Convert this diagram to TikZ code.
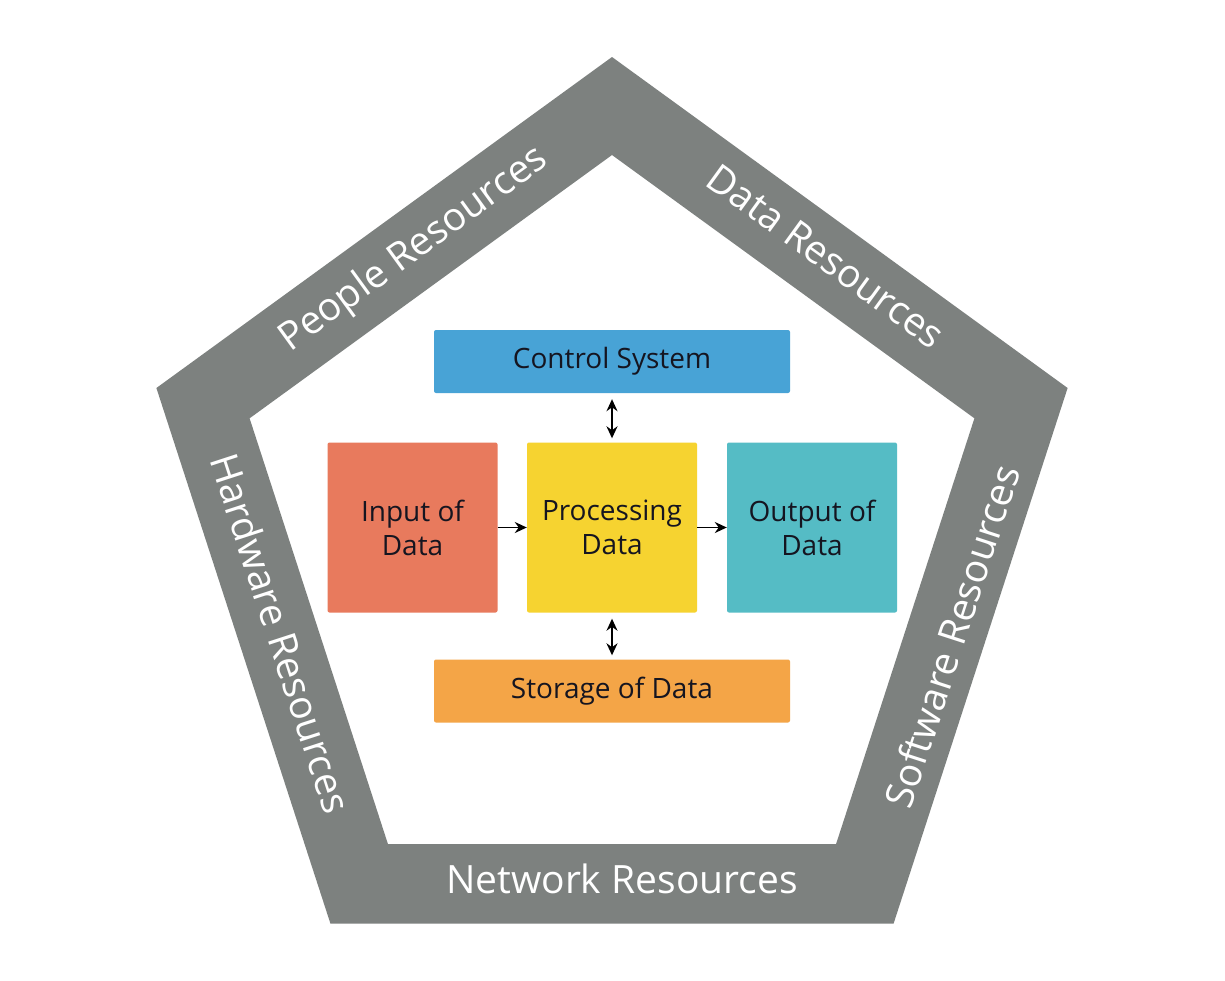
\documentclass[tikz,border=0pt]{standalone}
\usepackage{fontspec}
\setmainfont{Open Sans}
\usetikzlibrary{arrows.meta}
\definecolor{bandgray}{HTML}{7D817F}
\definecolor{cblue}{HTML}{48A3D6}
\definecolor{cred}{HTML}{E87A5D}
\definecolor{cyellow}{HTML}{F6D330}
\definecolor{cteal}{HTML}{55BCC5}
\definecolor{corange}{HTML}{F4A547}
\definecolor{ink}{HTML}{151520}
\begin{document}
\begin{tikzpicture}[x=1pt,y=-1pt,
  box/.style={rounded corners=2pt, inner sep=0pt, text=ink, align=center,
    font=\fontsize{28}{34}\selectfont},
  wide/.style={box, minimum width=356pt, minimum height=63pt},
  sq/.style={box, minimum width=170pt, minimum height=170pt},
  band/.style={text=white, font=\fontsize{39}{44}\selectfont, inner sep=0pt},
  tip/.style={Stealth[length=12pt,width=11pt]},
  conn/.style={-{Stealth[length=12pt,width=11pt]}, line width=1.8pt, black},
  dconn/.style={{Stealth[length=12pt,width=11pt]}-{Stealth[length=12pt,width=11pt]}, line width=1.8pt, black, shorten <=6pt, shorten >=4pt}]
\useasboundingbox (0,0) rectangle (1225,980);
\fill[white] (0,0) rectangle (1225,980);
% pentagon band
\fill[bandgray, even odd rule]
  (612,57) -- (1067.6,388) -- (893.6,923.5) -- (330.4,923.5) -- (156.4,388) -- cycle
  (612,155) -- (974.4,418.3) -- (836,844.2) -- (388,844.2) -- (249.6,418.3) -- cycle;
% band labels
\node[band, rotate=36] (people) at (414,250) {People Resources};
\node[band, rotate=-36] (datares) at (826,256) {Data Resources};
\node[band, rotate=-72] (hardware) at (281,633) {Hardware Resources};
\node[band, rotate=72] (software) at (952,636) {Software Resources};
\node[band] (network) at (622,879) {Network Resources};
% boxes
\node[wide, fill=cblue] (control) at (612,361.5) {Control System};
\node[sq, fill=cred] (input) at (412.5,527.5) {Input of\\Data};
\node[sq, fill=cyellow] (proc) at (612,527.5) {Processing\\Data};
\node[sq, fill=cteal] (output) at (812,527.5) {Output of\\Data};
\node[wide, fill=corange] (storage) at (612,691) {Storage of Data};
% connectors
\draw[conn] (input.east) -- (proc.west);
\draw[conn] (proc.east) -- (output.west);
\draw[dconn] (control.south) -- (proc.north);
\draw[dconn] (proc.south) -- (storage.north);
\end{tikzpicture}
\end{document}
